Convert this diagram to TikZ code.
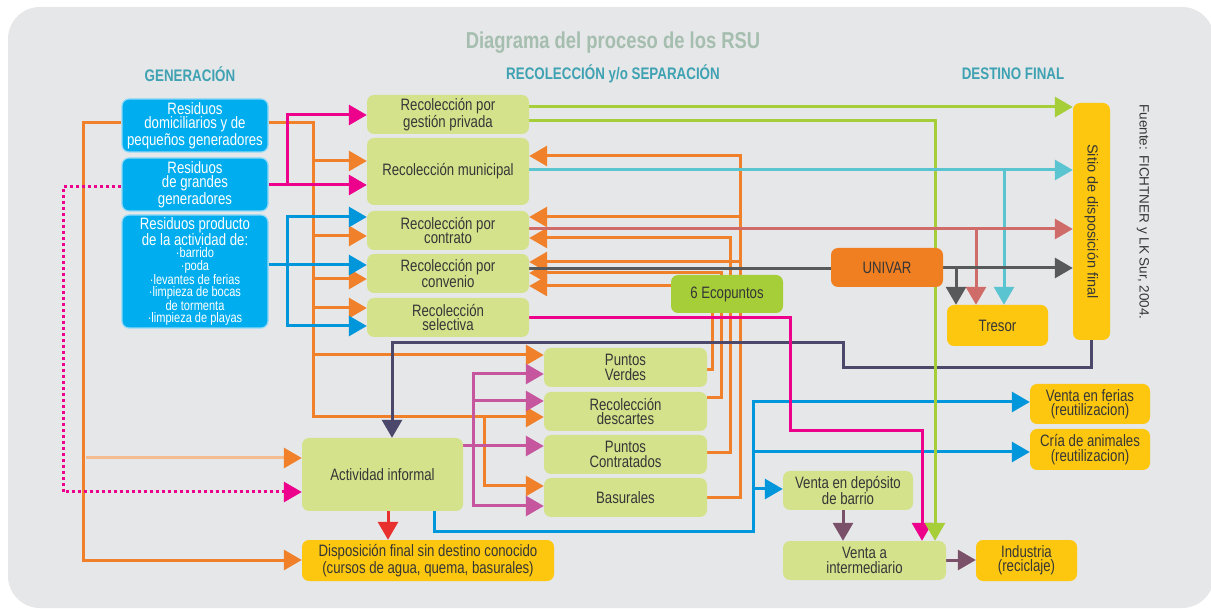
\documentclass[tikz,border=0pt]{standalone}
\usepackage{graphicx}
\usepackage{fontspec}
\setmainfont{Liberation Sans}[FakeStretch=0.8]
\newfontfamily\widefont{Liberation Sans}
\usetikzlibrary{arrows.meta}

\definecolor{panel}{HTML}{E6E7E8}
\definecolor{cblue}{HTML}{00AEEF}
\definecolor{cblueedge}{HTML}{8ED8F8}
\definecolor{cgreen}{HTML}{D5E28C}
\definecolor{ceco}{HTML}{A6CE39}
\definecolor{cyellow}{HTML}{FDC70F}
\definecolor{corange}{HTML}{F07F22}
\definecolor{ctext}{HTML}{363636}
\definecolor{lorange}{HTML}{F0812A}
\definecolor{lorangesoft}{HTML}{F5BC90}
\definecolor{lpink}{HTML}{EC008C}
\definecolor{lblue}{HTML}{0096DB}
\definecolor{lpurple}{HTML}{C6579F}
\definecolor{lnavy}{HTML}{4B486C}
\definecolor{lred}{HTML}{E8312F}
\definecolor{lmauve}{HTML}{7B5069}
\definecolor{lgreen}{HTML}{A6CE39}
\definecolor{lcyan}{HTML}{5BC4D1}
\definecolor{lsalmon}{HTML}{CF6C6A}
\definecolor{lgray}{HTML}{58595B}
\definecolor{ltitle}{HTML}{A5BEAF}
\definecolor{lhead}{HTML}{3FA2B3}

\pgfdeclarelayer{panellayer}
\pgfdeclarelayer{flowlayer}
\pgfsetlayers{panellayer,flowlayer,main}

\tikzset{
  box/.style={rounded corners=7pt, inner sep=0pt, align=center, text=ctext,
    font=\fontsize{16.5}{14.3}\selectfont},
  bluebox/.style={box, fill=cblue, draw=cblueedge, line width=1.2pt, text=white,
    minimum width=146pt},
  greenbox/.style={box, fill=cgreen},
  yellowbox/.style={box, fill=cyellow},
  flow/.style={line width=3pt, sharp corners},
  arr/.style={-{Triangle[length=18pt,width=20pt]}},
  heading/.style={text=lhead, font=\bfseries\fontsize{16.7}{17}\selectfont},
}

\begin{document}
\begin{tikzpicture}[x=1pt,y=-1pt]
\useasboundingbox (0,0) rectangle (1211,609);

\begin{pgfonlayer}{panellayer}
  \fill[panel, rounded corners=32pt] (8,7) rectangle (1214,608);
\end{pgfonlayer}

% titles
\node[text=ltitle, font=\bfseries\fontsize{23}{24}\selectfont] (title) at (613,43) {Diagrama del proceso de los RSU};
\node[heading] (hgen) at (190,74) {GENERACIÓN};
\node[heading] (hrec) at (613,74) {RECOLECCIÓN y/o SEPARACIÓN};
\node[heading] (hdes) at (1013,74) {DESTINO FINAL};

% generation
\node[bluebox, minimum height=53pt] (b1) at (195,125.5) {Residuos\\domiciliarios y de\\pequeños generadores};
\node[bluebox, minimum height=53pt] (b2) at (195,184.5) {Residuos\\de grandes\\generadores};
\node[bluebox, minimum height=113pt] (b3) at (195,271.5) {\parbox{144pt}{\centering
  \fontsize{16.5}{14.3}\selectfont Residuos producto\\de la actividad de:\par
  \fontsize{13.8}{12.4}\selectfont ·barrido\\·poda\\·levantes de ferias\\·limpieza de bocas\\de tormenta\\·limpieza de playas\par}};

% collection
\node[greenbox, minimum width=162pt, minimum height=39pt] (gp) at (448,114.5) {Recolección por\\gestión privada};
\node[greenbox, minimum width=162pt, minimum height=67pt] (mu) at (448,171.5) {Recolección municipal};
\node[greenbox, minimum width=162pt, minimum height=39pt] (co) at (448,230.5) {Recolección por\\contrato};
\node[greenbox, minimum width=162pt, minimum height=39pt] (cv) at (448,273.5) {Recolección por\\convenio};
\node[greenbox, minimum width=162pt, minimum height=39pt] (se) at (448,317.5) {Recolección\\selectiva};
\node[greenbox, minimum width=163pt, minimum height=39pt] (pv) at (625.5,367.5) {Puntos\\Verdes};
\node[greenbox, minimum width=163pt, minimum height=39pt] (rd) at (625.5,411.5) {Recolección\\descartes};
\node[greenbox, minimum width=163pt, minimum height=39pt] (pc) at (625.5,454.5) {Puntos\\Contratados};
\node[greenbox, minimum width=163pt, minimum height=39pt] (ba) at (625.5,497.5) {Basurales};
\node[greenbox, minimum width=161pt, minimum height=73pt] (ai) at (382.5,474.5) {Actividad informal};
\node[box, fill=ceco, minimum width=112pt, minimum height=38pt] (eco) at (727,294) {6 Ecopuntos};
\node[box, fill=corange, minimum width=112pt, minimum height=39pt] (un) at (887,267.5) {UNIVAR};

% destinations
\node[yellowbox, minimum width=252pt, minimum height=41pt] (df) at (428,560.5) {Disposición final sin destino conocido\\(cursos de agua, quema, basurales)};
\node[yellowbox, minimum width=37pt, minimum height=237pt] (si) at (1091.5,221.5)
  {\rotatebox{-90}{\widefont\fontsize{14.5}{16}\selectfont Sitio de disposición final}};
\node[yellowbox, minimum width=101pt, minimum height=41pt] (tr) at (997.5,325.5) {Tresor};
\node[yellowbox, minimum width=120pt, minimum height=40pt] (vf) at (1090,404) {Venta en ferias\\(reutilizacion)};
\node[yellowbox, minimum width=120pt, minimum height=41pt] (ca) at (1090,449.5) {Cría de animales\\(reutilizacion)};
\node[greenbox, minimum width=130pt, minimum height=39pt] (vd) at (848,490.5) {Venta en depósito\\de barrio};
\node[greenbox, minimum width=163pt, minimum height=39pt] (vi) at (864.5,560.5) {Venta a\\intermediario};
\node[yellowbox, minimum width=101pt, minimum height=41pt] (in) at (1026.5,560.5) {Industria\\(reciclaje)};

\node[rotate=-90, text=ctext, font=\widefont\fontsize{13.5}{15}\selectfont] (src) at (1143,212) {Fuente: FICHTNER y LK Sur, 2004.};

% trunk and junction points
\coordinate (oleft) at (83,0);
\coordinate (oright) at (313,0);
\coordinate (split) at (287,0);
\coordinate (pjoin) at (473,0);
\coordinate (bjoin) at (753,0);

\begin{pgfonlayer}{flowlayer}
  % orange supply from households
  \draw[flow,lorange,arr] (b1.west |- 0,123) -| (oleft |- 0,560) -- (df.west |- 0,560);
  \draw[flow,lorangesoft,-{Triangle[length=18pt,width=20pt,color=lorange]}] (86,458) -- (ai.west |- 0,458);
  \draw[flow,lorange,arr] (b1.east |- 0,123) -| (oright |- 0,417) -- (rd.west |- 0,417);
  \foreach \yy/\tgt in {161/mu,236/co,279/cv,308/se,355/pv}
    \draw[flow,lorange,arr] (oright |- 0,\yy) -- (\tgt.west |- 0,\yy);
  \draw[flow,lorange,arr] (484,417) |- (ba.west |- 0,486);

  % orange returns from recovery points
  \draw[flow,lorange,arr] (ba.east |- 0,498) -| (740,156) -- (mu.east |- 0,156);
  \draw[flow,lorange,arr] (740,217) -- (co.east |- 0,217);
  \draw[flow,lorange,arr] (740,262) -- (cv.east |- 0,262);
  \draw[flow,lorange,arr] (pc.east |- 0,453) -| (730,238) -- (co.east |- 0,238);
  \draw[flow,lorange,arr] (rd.east |- 0,398) -| (721,273) -- (cv.east |- 0,273);
  \draw[flow,lorange,arr] (pv.east |- 0,370) -| (712,286) -- (cv.east |- 0,286);

  % large generators
  \draw[flow,lpink,arr] (b2.east |- 0,185) -- (mu.west |- 0,185);
  \draw[flow,lpink,arr] (split |- 0,185) |- (gp.west |- 0,115);
  \draw[line width=3pt,lpink,dash pattern=on 3pt off 3pt,arr] (b2.west |- 0,187) -| (63,492) -- (ai.west |- 0,492);

  % street cleaning residues
  \draw[flow,lblue,arr] (b3.east |- 0,265) -- (cv.west |- 0,265);
  \draw[flow,lblue,arr] (split |- 0,265) |- (co.west |- 0,217);
  \draw[flow,lblue,arr] (split |- 0,265) |- (se.west |- 0,326);

  % informal activity
  \draw[flow,lpurple,arr] (ai.east |- 0,446) -- (pc.west |- 0,446);
  \draw[flow,lpurple,arr] (pjoin |- 0,446) |- (pv.west |- 0,374);
  \draw[flow,lpurple,arr] (pjoin |- 0,401) -- (rd.west |- 0,401);
  \draw[flow,lpurple,arr] (pjoin |- 0,446) |- (ba.west |- 0,506);
  \draw[flow,lred,arr] (ai.south -| 388,0) -- (df.north -| 388,0);
  \draw[flow,lblue,arr] (ai.south -| 434,0) |- (bjoin |- 0,532) |- (vf.west |- 0,402);
  \draw[flow,lblue,arr] (bjoin |- 0,452) -- (ca.west |- 0,452);
  \draw[flow,lblue,arr] (bjoin |- 0,489) -- (vd.west |- 0,489);

  % return from the final site
  \draw[flow,lnavy,arr] (si.south) |- (843,368) |- (392,343) -- (ai.north -| 392,0);

  % selective and private collection
  \draw[flow,lpink,arr] (se.east |- 0,318) -| (790,431) -| (vi.north -| 922,0);
  \draw[flow,lgreen,arr] (gp.east |- 0,107) -- (si.west |- 0,107);
  \draw[flow,lgreen,arr] (gp.east |- 0,121) -| (vi.north -| 935,0);

  % to the final site and Tresor
  \draw[flow,lcyan,arr] (mu.east |- 0,170) -- (si.west |- 0,170);
  \draw[flow,lcyan,arr] (1004,170) -- (tr.north -| 1004,0);
  \draw[flow,lsalmon,arr] (co.east |- 0,229) -- (si.west |- 0,229);
  \draw[flow,lsalmon,arr] (976,229) -- (tr.north -| 976,0);
  \draw[flow,lgray] (cv.east |- 0,269) -- (un.west |- 0,269);
  \draw[flow,lgray,arr] (un.east |- 0,268) -- (si.west |- 0,268);
  \draw[flow,lgray,arr] (956,268) -- (tr.north -| 956,0);

  % trade chain
  \draw[flow,lmauve,arr] (vd.south -| 843,0) -- (vi.north -| 843,0);
  \draw[flow,lmauve,arr] (vi.east |- 0,560) -- (in.west |- 0,560);
\end{pgfonlayer}
\end{tikzpicture}
\end{document}
